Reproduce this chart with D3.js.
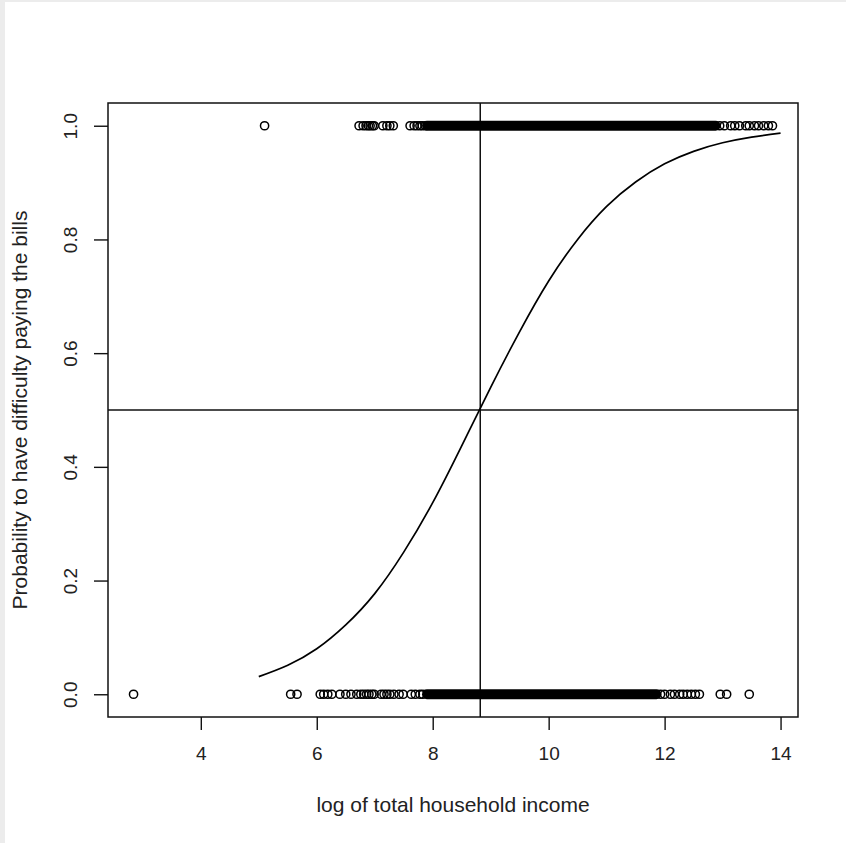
<!DOCTYPE html>
<html lang='en'>
    <head>
        <meta charset="utf-8">
        <script src="https://d3js.org/d3.v7.min.js"></script>
        <style>
            *{
                margin:0;
                padding:0
            }
            body{
                width:846px;
                height:843px;
                background-color:white;
                overflow:hidden;
            }
            svg{
                display:block;
            }
            .axis text{
                font-family:"Liberation Sans", Arial, sans-serif;
                font-size:19px;
                fill:#222;
            }
            .title{
                font-family:"Liberation Sans", Arial, sans-serif;
                font-size:21px;
                fill:#222;
            }
        </style>
    </head>
    <body>
        <script>
            const topPoints=[5.10,6.73,6.80,6.85,6.89,6.92,6.96,6.99,7.14,7.21,7.26,7.32,
                             7.61,7.68,7.73,7.78,7.82,7.87,
                             12.95,13.03,13.14,13.21,13.29,13.40,13.46,13.55,13.62,13.71,13.79,13.86];
            const bottomPoints=[2.84,5.55,5.66,6.06,6.12,6.19,6.26,6.40,6.50,6.59,6.69,
                                6.76,6.81,6.86,6.90,6.95,6.99,7.11,7.16,7.21,7.26,7.33,7.42,7.49,
                                7.63,7.70,7.78,7.83,
                                11.93,12.00,12.10,12.17,12.26,12.32,12.39,12.46,12.53,12.60,
                                12.96,13.07,13.46];
            // ranges where the points are so dense they merge into one black band
            const topBand=[7.90,12.88];
            const bottomBand=[7.90,11.86];
            // fitted probability curve
            const curveX=[5.0,5.5,6.0,6.5,7.0,7.5,8.0,8.5,9.0,9.5,10.0,10.5,11.0,11.5,12.0,12.5,13.0,13.5,14.0];
            const curveP=[0.031,0.051,0.080,0.122,0.177,0.250,0.337,0.437,0.540,0.638,0.727,0.800,0.858,0.901,0.933,0.955,0.970,0.980,0.987];
            const cutX=8.82;
            const cutP=0.5;
            const xTicks=[4,6,8,10,12,14];
            const yTicks=[0,0.2,0.4,0.6,0.8,1.0];

            const W=846, H=843;
            const mLeft=108, mRight=798, mTop=103, mBottom=717;

            const svg=d3.select('body').append('svg')
                        .attr('width',W)
                        .attr('height',H);

            // grey frame of the screenshot
            svg.append('rect').attr('x',0).attr('y',0).attr('width',5).attr('height',H).attr('fill','#ececec');
            svg.append('rect').attr('x',0).attr('y',0).attr('width',W).attr('height',2).attr('fill','#ececec');

            const allX=topPoints.concat(bottomPoints);
            const xMin=d3.min(allX), xMax=d3.max(allX);
            const pad=(xMax-xMin)*0.04;
            const xScale=d3.scaleLinear()
                           .domain([xMin-pad,xMax+pad])
                           .range([mLeft,mRight]);
            const yScale=d3.scaleLinear()
                           .domain([-0.04,1.04])
                           .range([mBottom,mTop]);

            const xAxis=(g)=>g
                        .attr('class','axis')
                        .attr('transform',`translate(0,${mBottom})`)
                        .call(d3.axisBottom(xScale).tickValues(xTicks).tickSize(13).tickPadding(17).tickFormat(d3.format('d')))
                        .call(g=>g.select('.domain').remove())
                        .call(g=>g.selectAll('line').attr('stroke','#111').attr('stroke-width',1.4));
            const yAxis=(g)=>g
                        .attr('class','axis')
                        .attr('transform',`translate(${mLeft},0)`)
                        .call(d3.axisLeft(yScale).tickValues(yTicks).tickSize(14).tickFormat(d3.format('.1f')))
                        .call(g=>g.select('.domain').remove())
                        .call(g=>g.selectAll('line').attr('stroke','#111').attr('stroke-width',1.4))
                        .call(g=>g.selectAll('text')
                                  .attr('x',0).attr('y',0).attr('dy','0.35em')
                                  .attr('text-anchor','middle')
                                  .attr('transform','translate(-38,0) rotate(-90)'));

            svg.append('g').call(xAxis);
            svg.append('g').call(yAxis);

            // reference lines
            svg.append('line')
               .attr('x1',xScale(cutX)).attr('x2',xScale(cutX))
               .attr('y1',mTop).attr('y2',mBottom)
               .attr('stroke','#111').attr('stroke-width',1.5);
            svg.append('line')
               .attr('x1',mLeft).attr('x2',mRight)
               .attr('y1',yScale(cutP)).attr('y2',yScale(cutP))
               .attr('stroke','#111').attr('stroke-width',1.5);

            // dense bands
            const bands=[{r:topBand,y:1},{r:bottomBand,y:0}];
            svg.selectAll('line.band')
               .data(bands)
               .enter()
               .append('line')
               .attr('class','band')
               .attr('x1',d=>xScale(d.r[0])).attr('x2',d=>xScale(d.r[1]))
               .attr('y1',d=>yScale(d.y)).attr('y2',d=>yScale(d.y))
               .attr('stroke','#000')
               .attr('stroke-width',9.8)
               .attr('stroke-linecap','round');

            const pts=topPoints.map(x=>({x,y:1})).concat(bottomPoints.map(x=>({x,y:0})));
            svg.selectAll('circle')
               .data(pts)
               .enter()
               .append('circle')
               .attr('cx',d=>xScale(d.x))
               .attr('cy',d=>yScale(d.y))
               .attr('r',4.1)
               .attr('fill','none')
               .attr('stroke','#000')
               .attr('stroke-width',1.5);

            // fitted curve
            const line=d3.line()
                         .x(d=>xScale(d[0]))
                         .y(d=>yScale(d[1]))
                         .curve(d3.curveNatural);
            svg.append('path')
               .datum(curveX.map((x,i)=>[x,curveP[i]]))
               .attr('d',line)
               .attr('fill','none')
               .attr('stroke','#000')
               .attr('stroke-width',1.7);

            // box
            svg.append('rect')
               .attr('x',mLeft).attr('y',mTop)
               .attr('width',mRight-mLeft).attr('height',mBottom-mTop)
               .attr('fill','none')
               .attr('stroke','#111')
               .attr('stroke-width',1.5);

            svg.append('text')
               .attr('class','title')
               .attr('x',(mLeft+mRight)/2)
               .attr('y',812)
               .attr('text-anchor','middle')
               .text('log of total household income');
            svg.append('text')
               .attr('class','title')
               .attr('transform',`translate(27,${(mTop+mBottom)/2}) rotate(-90)`)
               .attr('text-anchor','middle')
               .text('Probability to have difficulty paying the bills');
        </script>
    </body>
</html>
